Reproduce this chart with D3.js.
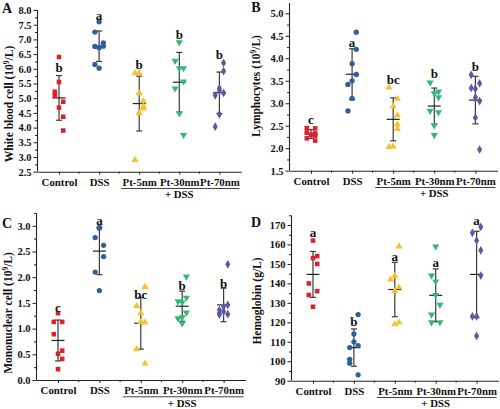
<!DOCTYPE html>
<html><head><meta charset="utf-8">
<script src="https://cdn.jsdelivr.net/npm/d3@7"></script>
<style>
body{margin:0;background:#fff}
svg text{font-family:"Liberation Serif","Times New Roman",serif;font-weight:bold;fill:#111}
</style>
</head><body>
<svg id="chart" width="500" height="409"></svg>
<script>
// ---------- data ----------
const categories = ["Control","DSS","Pt-5nm","Pt-30nm","Pt-70nm"];
const groupColors = ["#d9232a","#2f5f9e","#f4c22c","#33b877","#5a58a2"];

const wbcValues = [
  [6.4,5.55,5.22,5.08,4.88,4.68,4.37,3.9],
  [7.6,7.25,6.76,6.72,6.77,6.88,6.15,6.02],
  [5.85,5.85,5.17,4.9,4.72,4.65,4.5,2.9],
  [6.9,6.27,6.02,6.02,5.57,5.33,4.48,3.75],
  [6.2,5.92,5.34,5.26,5.18,5.1,4.45,4.03]];
const wbcJitter = [[0,0,-1,-1,1,0,1,1],[0,-1,-1,0,1,1,-1,0],[-1,0,0,1,1,1,0,-1],[0,-1,0,1,1,-1,0,1],[1,1,0,0,1,-1,0,-1]];
const wbcLetters = ["b","a","b","b","b"];
const wbcLetterAt = [6.03,7.83,6.15,7.18,6.5];
const wbcTicks = [2.5,3.0,3.5,4.0,4.5,5.0,5.5,6.0,6.5,7.0,7.5,8.0];

const lymValues = [
  [2.45,2.44,2.35,2.33,2.3,2.28,2.22,2.17],
  [4.58,4.2,3.88,3.64,3.5,3.42,3.11,2.83],
  [3.35,3.1,2.93,2.73,2.53,2.43,2.03,2.04],
  [3.46,3.26,3.22,3.13,2.83,2.8,2.51,2.29],
  [3.63,3.44,3.34,3.32,3.13,3.05,2.68,1.97]];
const lymJitter = [[-1,1,-1,1,0,1,-1,1],[1,1,0,1,0,-1,0,-1],[-1,1,0,1,1,1,-1,0],[-1,1,0,1,-1,1,0,0],[-1,1,-1,0,0,1,0,1]];
const lymLetters = ["c","a","bc","b","b"];
const lymLetterAt = [2.64,4.36,3.52,3.67,3.82];
const lymTicks = [1.5,2.0,2.5,3.0,3.5,4.0,4.5,5.0];

const monoValues = [
  [1.3,1.13,1.13,0.89,0.57,0.51,0.41,0.21],
  [2.97,2.95,2.77,2.62,2.4,2.1,1.74],
  [1.81,1.44,1.3,1.13,1.12,0.6,0.32],
  [2.01,1.6,1.53,1.51,1.31,1.22,1.2,1.1],
  [2.25,1.46,1.43,1.36,1.33,1.3,1.28,1.27]];
const monoJitter = [[0,-1,1,-1,1,0,1,0],[0,0,-1,1,1,-1,0],[1,-1,0,0,1,-1,1],[1,1,-1,0,1,0,-1,0],[1,1,0,-1,0,-1,1,-1]];
const monoLetters = ["c","a","bc","b","b"];
const monoLetterAt = [1.41,3.11,1.66,1.83,1.88];
const monoTicks = [0.0,0.5,1.0,1.5,2.0,2.5,3.0];

const hbValues = [
  [162,154,153,150,140,136,134,128],
  [124,114,110,108,107,101,99,93],
  [159,144,142,138,136,120,119],
  [159,144,141,134,129,124,120,120],
  [169,166,162,157,144,123,123,113]];
const hbJitter = [[0,1,0,1,-1,1,-1,0],[1,0,0,1,-1,-1,-1,1],[1,0,-1,1,0,1,0],[0,-1,0,0,1,-1,-1,1],[1,-1,0,1,1,-1,0,0]];
const hbLetters = ["a","b","a","a","a"];
const hbLetterAt = [166.2,120.3,154.1,150.8,172.6];
const hbTicks = [90,100,110,120,130,140,150,160,170];

// ---------- layout ----------
const panels = [
  {tag:"A", values:wbcValues, jitter:wbcJitter, letters:wbcLetters, letterAt:wbcLetterAt, ticks:wbcTicks,
   domain:[2.5,8.0], yRange:[171.7,10], axisX:37, step:40.1, fmt:d3.format(".1f"), minor:0.25,
   title:["White blood cell (10","9","/L)"], titleX:9, titleY:104, tagX:7, tagY:13},
  {tag:"B", values:lymValues, jitter:lymJitter, letters:lymLetters, letterAt:lymLetterAt, ticks:lymTicks,
   domain:[1.5,5.23], yRange:[170.7,3], axisX:289, step:41.1, fmt:d3.format(".1f"), minor:0.25,
   title:["Lymphocytes (10","9","/L)"], titleX:256, titleY:86, tagX:256, tagY:12},
  {tag:"C", values:monoValues, jitter:monoJitter, letters:monoLetters, letterAt:monoLetterAt, ticks:monoTicks,
   domain:[0,3.25], yRange:[380,212.9], axisX:36, step:41.4, fmt:d3.format(".1f"), minor:0.25,
   title:["Mononuclear cell (10","9","/L)"], titleX:8, titleY:313, tagX:7, tagY:228},
  {tag:"D", values:hbValues, jitter:hbJitter, letters:hbLetters, letterAt:hbLetterAt, ticks:hbTicks,
   domain:[90,175], yRange:[380.7,215.3], axisX:291, step:40.9, fmt:d3.format("d"), minor:5,
   title:["Hemoglobin (g/L)"], titleX:257, titleY:301, tagX:256, tagY:227}
];

const symbolTypes = [d3.symbolSquare, d3.symbolCircle, d3.symbolTriangle, d3.symbolTriangle, d3.symbolDiamond];
const symbolSizes = [21, 22, 22, 22, 22];
const symbolRot = [0,0,0,180,0];
const jitterPx = 4.2;

const svg = d3.select("#chart");

panels.forEach(p => {
  const g = svg.append("g");
  const y = d3.scaleLinear().domain(p.domain).range(p.yRange);
  const x = d3.scalePoint().domain(categories)
      .range([p.axisX, p.axisX + 4*p.step + 44]).padding(22/p.step);
  const x0 = y(p.domain[0]);

  // minor y ticks
  const minorVals = d3.range(p.domain[0], p.domain[1]+1e-9, p.minor).filter(v => !p.ticks.some(t => Math.abs(t-v)<1e-6));
  g.append("g").attr("transform",`translate(${p.axisX},0)`)
    .call(d3.axisLeft(y).tickValues(minorVals).tickSize(2).tickFormat(""))
    .call(s => s.select(".domain").remove())
    .selectAll("line").attr("stroke","#222");
  // y axis
  const ya = g.append("g").attr("transform",`translate(${p.axisX},0)`)
    .call(d3.axisLeft(y).tickValues(p.ticks).tickSize(3.5).tickSizeOuter(0).tickPadding(2).tickFormat(p.fmt));
  ya.select(".domain").attr("stroke","#222").attr("stroke-width",1.1)
    .attr("d",`M0.5,${y(p.domain[0])}V${y(p.domain[1])}`);
  ya.selectAll("line").attr("stroke","#222");
  ya.selectAll("text").style("font-size","10.5px").style("font-family",'"Liberation Serif",serif').style("font-weight","bold").attr("fill","#111");

  // x axis
  const mids = categories.slice(0,-1).map((c,i)=> (x(c)+x(categories[i+1]))/2);
  const xa = g.append("g").attr("transform",`translate(0,${x0})`)
    .call(d3.axisBottom(x).tickSize(3).tickSizeOuter(0).tickPadding(3.5));
  xa.select(".domain").attr("stroke","#222").attr("stroke-width",1.1);
  xa.selectAll("line").attr("stroke","#222");
  xa.selectAll("text").style("font-size","10.8px").style("font-family",'"Liberation Serif",serif').style("font-weight","bold").attr("fill","#111");
  g.append("g").selectAll("line").data(mids).join("line")
    .attr("x1",d=>d).attr("x2",d=>d).attr("y1",x0).attr("y2",x0+2).attr("stroke","#222");

  // underline and + DSS
  g.append("line").attr("x1",x("Pt-5nm")-18).attr("x2",x("Pt-70nm")+20)
    .attr("y1",x0+16.8).attr("y2",x0+16.8).attr("stroke","#444").attr("stroke-width",1);
  g.append("text").attr("x",x("Pt-30nm")).attr("y",x0+26.5).attr("text-anchor","middle")
    .style("font-size","10.8px").text("+ DSS");

  // error bars + means
  p.values.forEach((vals,i) => {
    const cx = x(categories[i]);
    const m = d3.mean(vals), sd = d3.deviation(vals);
    const eg = g.append("g").attr("stroke","#3a3a3a").attr("stroke-width",1.2);
    eg.append("line").attr("x1",cx).attr("x2",cx).attr("y1",y(m+sd)).attr("y2",y(m-sd));
    eg.append("line").attr("x1",cx-3).attr("x2",cx+3).attr("y1",y(m+sd)).attr("y2",y(m+sd));
    eg.append("line").attr("x1",cx-3).attr("x2",cx+3).attr("y1",y(m-sd)).attr("y2",y(m-sd));
    eg.append("line").attr("x1",cx-6.5).attr("x2",cx+6.5).attr("y1",y(m)).attr("y2",y(m)).attr("stroke","#222");
  });

  // points
  p.values.forEach((vals,i) => {
    const cx = x(categories[i]);
    const sym = d3.symbol().type(symbolTypes[i]).size(symbolSizes[i]);
    g.append("g").selectAll("path").data(vals).join("path")
      .attr("d", sym)
      .attr("transform",(v,j)=>`translate(${cx + p.jitter[i][j]*jitterPx},${y(v)}) rotate(${symbolRot[i]})`)
      .attr("fill", groupColors[i]);
  });

  // letters
  g.append("g").selectAll("text").data(p.letters).join("text")
    .attr("x",(d,i)=>x(categories[i])).attr("y",(d,i)=>y(p.letterAt[i]))
    .attr("dy","0.35em").attr("text-anchor","middle").style("font-size","13px").text(d=>d);

  // y title
  const t = g.append("text").attr("transform",`translate(${p.titleX},${p.titleY}) rotate(-90)`)
    .attr("text-anchor","middle").attr("dy","0.35em").style("font-size","11.5px");
  t.append("tspan").text(p.title[0]);
  if (p.title.length>1){
    t.append("tspan").attr("dy","-4").style("font-size","7.5px").text(p.title[1]);
    t.append("tspan").attr("dy","4").text(p.title[2]);
  }
  // panel tag
  g.append("text").attr("x",p.tagX).attr("y",p.tagY).attr("text-anchor","middle")
    .style("font-size","14px").text(p.tag);
});
</script>
</body></html>
